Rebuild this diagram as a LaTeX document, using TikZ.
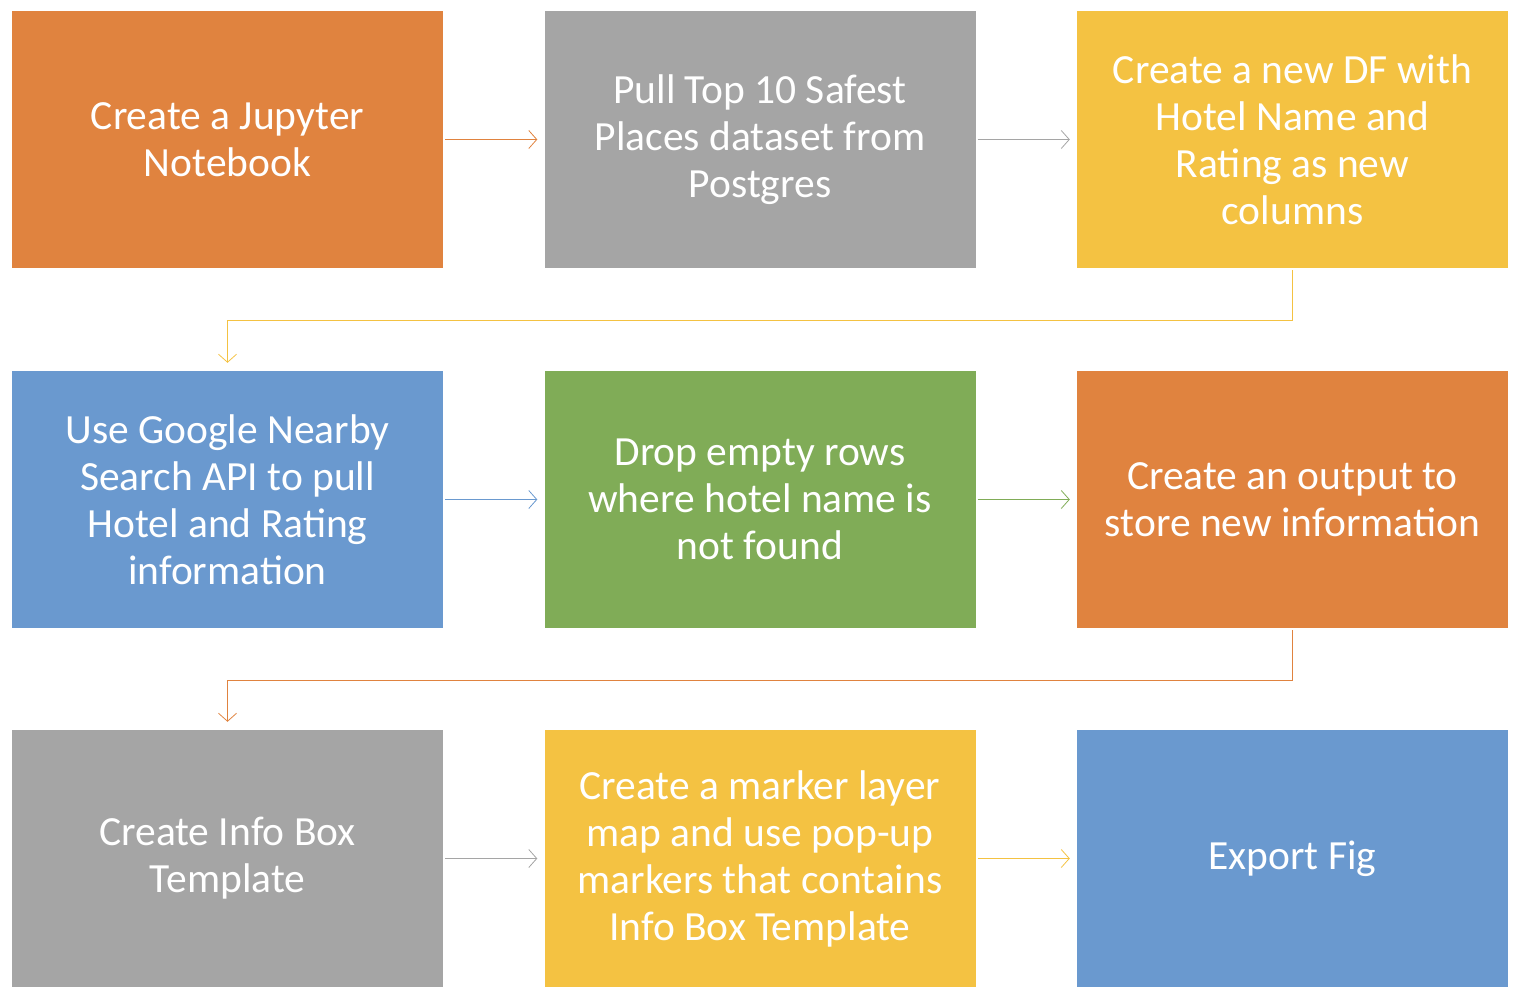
\documentclass[tikz,border=0pt]{standalone}
\usepackage{fontspec}
\setmainfont{Carlito}
\usetikzlibrary{arrows.meta}
\definecolor{corange}{HTML}{E0833F}
\definecolor{cgray}{HTML}{A5A5A5}
\definecolor{cyellow}{HTML}{F4C242}
\definecolor{cblue}{HTML}{6A99CF}
\definecolor{cgreen}{HTML}{80AC57}
\begin{document}
\begin{tikzpicture}[x=1pt,y=-1pt,
  box/.style={fill=#1,draw=none,minimum width=431pt,minimum height=257pt,inner sep=0pt,
    text=white,align=center,font=\fontsize{41.5}{47}\selectfont},
  conn/.style={draw=#1,line width=0.8pt,-{Straight Barb[length=8pt,width=18pt,line width=0.8pt]}}]
\useasboundingbox (0,0) rectangle (1520,1000);
\node[box=corange] (a) at (227.5,139.5) {Create a Jupyter\\Notebook};
\node[box=cgray] (b) at (760,139.5) {Pull Top 10 Safest\\Places dataset from\\Postgres};
\node[box=cyellow] (c) at (1292.5,139.5) {Create a new DF with\\Hotel Name and\\Rating as new\\columns};
\node[box=cblue] (d) at (227.5,499.5) {Use Google Nearby\\Search API to pull\\Hotel and Rating\\information};
\node[box=cgreen] (e) at (760,499.5) {Drop empty rows\\where hotel name is\\not found};
\node[box=corange] (f) at (1292.5,499.5) {Create an output to\\store new information};
\node[box=cgray] (g) at (227.5,858.5) {Create Info Box\\Template};
\node[box=cyellow] (h) at (760,858.5) {Create a marker layer\\map and use pop-up\\markers that contains\\Info Box Template};
\node[box=cblue] (i) at (1292.5,858.5) {Export Fig};
\draw[conn=corange] ([xshift=2pt]a.east) -- ([xshift=-7pt]b.west);
\draw[conn=cgray] ([xshift=2pt]b.east) -- ([xshift=-7pt]c.west);
\draw[conn=cyellow] ([yshift=-2pt]c.south) -- ++(0,50) -| ([yshift=8pt]d.north);
\draw[conn=cblue] ([xshift=2pt]d.east) -- ([xshift=-7pt]e.west);
\draw[conn=cgreen] ([xshift=2pt]e.east) -- ([xshift=-7pt]f.west);
\draw[conn=corange] ([yshift=-2pt]f.south) -- ++(0,50) -| ([yshift=8pt]g.north);
\draw[conn=cgray] ([xshift=2pt]g.east) -- ([xshift=-7pt]h.west);
\draw[conn=cyellow] ([xshift=2pt]h.east) -- ([xshift=-7pt]i.west);
\end{tikzpicture}
\end{document}
